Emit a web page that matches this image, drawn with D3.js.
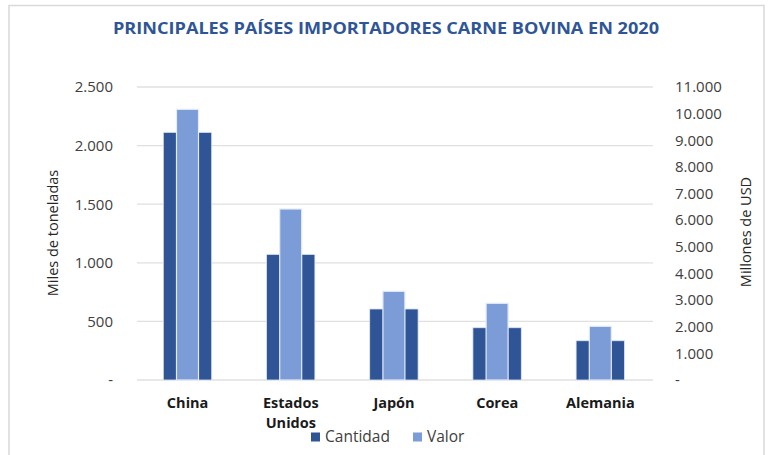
<!DOCTYPE html>
<html><head><meta charset="utf-8">
<script src="https://cdn.jsdelivr.net/npm/d3@7"></script>
<style>body{margin:0;background:#fff}svg{display:block}</style>
</head><body>
<svg id="c" width="770" height="455"></svg>
<script>
const categories = [["China"], ["Estados", "Unidos"], ["Japón"], ["Corea"], ["Alemania"]];
const cantidad = [2113, 1072, 606, 446, 335];
const valor = [10163, 6420, 3330, 2879, 2015];
const leftTicks = [0, 500, 1000, 1500, 2000, 2500];
const rightTicks = [0, 1000, 2000, 3000, 4000, 5000, 6000, 7000, 8000, 9000, 10000, 11000];
const seriesNames = ["Cantidad", "Valor"];
const colors = ["#2F5597", "#7B9CD6"];

const svg = d3.select("#c");
const font = "'Open Sans', 'Liberation Sans', sans-serif";
const fmt = v => v === 0 ? "-" : d3.format(",")(v).replace(/,/g, ".");

svg.append("rect").attr("x", 9).attr("y", 5.5).attr("width", 755).attr("height", 470)
  .attr("fill", "#fff").attr("stroke", "#d9d9d9").attr("stroke-width", 1.5);

svg.append("text").attr("x", 386).attr("y", 33.5).attr("text-anchor", "middle")
  .attr("font-family", font).attr("font-weight", "bold").attr("font-size", 15.5)
  .attr("fill", "#2F5597").attr("textLength", 546).attr("lengthAdjust", "spacingAndGlyphs")
  .text("PRINCIPALES PAÍSES IMPORTADORES CARNE BOVINA EN 2020");

const x0 = 137, x1 = 653, yTop = 87, yBot = 380;
const x = d3.scaleBand().domain(d3.range(categories.length)).range([x0, x1]);
const yL = d3.scaleLinear().domain([0, 2500]).range([yBot, yTop]);
const yR = d3.scaleLinear().domain([0, 11000]).range([yBot, yTop]);

// gridlines
svg.append("g").selectAll("line").data(leftTicks).join("line")
  .attr("x1", x0).attr("x2", x1).attr("y1", d => yL(d)).attr("y2", d => yL(d))
  .attr("stroke", "#e0e0e0").attr("stroke-width", 1.3);

// left axis
const gl = svg.append("g").attr("transform", `translate(${x0 - 24},0)`)
  .call(d3.axisLeft(yL).tickValues(leftTicks).tickFormat(fmt).tickSize(0).tickPadding(0));
gl.select(".domain").remove();
gl.selectAll("text").attr("font-family", font).attr("font-size", 15).attr("fill", "#404040");

// right axis
const gr = svg.append("g").attr("transform", `translate(${x1 + 22},0)`)
  .call(d3.axisRight(yR).tickValues(rightTicks).tickFormat(fmt).tickSize(0).tickPadding(0));
gr.select(".domain").remove();
gr.selectAll("text").attr("font-family", font).attr("font-size", 15).attr("fill", "#404040");

// axis titles
svg.append("text").attr("transform", "translate(58,233) rotate(-90)").attr("text-anchor", "middle")
  .attr("font-family", font).attr("font-size", 14.5).attr("fill", "#262626").text("Miles de toneladas");
svg.append("text").attr("transform", "translate(751,232) rotate(-90)").attr("text-anchor", "middle")
  .attr("font-family", font).attr("font-size", 14.5).attr("fill", "#262626").text("Millones de USD");

// bars
const wideW = 48.4, narrowW = 22;
svg.append("g").selectAll("rect").data(cantidad).join("rect")
  .attr("x", (d, i) => x(i) + x.bandwidth() / 2 - wideW / 2 - 1.1)
  .attr("width", wideW).attr("y", d => yL(d)).attr("height", d => yBot - yL(d))
  .attr("fill", colors[0]).attr("stroke", "#dfe6f3").attr("stroke-width", 0.8);
svg.append("g").selectAll("rect").data(valor).join("rect")
  .attr("x", (d, i) => x(i) + x.bandwidth() / 2 - narrowW / 2 - 1.1)
  .attr("width", narrowW).attr("y", d => yR(d)).attr("height", d => yBot - yR(d))
  .attr("fill", colors[1]).attr("stroke", "#e4ebf7").attr("stroke-width", 1.2);

// category labels
const cl = svg.append("g").selectAll("text").data(categories).join("text")
  .attr("text-anchor", "middle").attr("font-family", font).attr("font-weight", "bold")
  .attr("font-size", 14.5).attr("fill", "#1a1a1a")
  .attr("transform", (d, i) => `translate(${x(i) + x.bandwidth() / 2 - 1},408)`);
cl.selectAll("tspan").data(d => d).join("tspan").attr("x", 0).attr("dy", (d, j) => j ? 20 : 0).text(d => d);

// legend
const leg = svg.append("g");
const legX = [311, 413];
seriesNames.forEach((n, i) => {
  leg.append("rect").attr("x", legX[i]).attr("y", 432.5).attr("width", 9).attr("height", 9).attr("fill", colors[i]);
  leg.append("text").attr("x", legX[i] + 14).attr("y", 442).attr("font-family", font)
    .attr("font-size", 15.5).attr("fill", "#404040").text(n);
});
</script>
</body></html>
